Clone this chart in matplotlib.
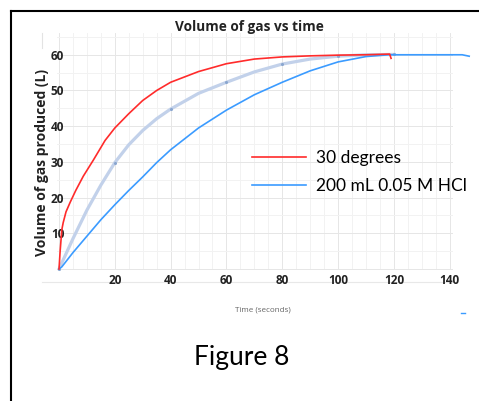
import matplotlib
matplotlib.use("Agg")
import matplotlib.pyplot as plt
from matplotlib.lines import Line2D
import numpy as np

W, H = 479, 401

# readings
red_t = [0, 0.4, 1, 1.5, 2.5, 4, 6, 8.7, 12.3, 16.5, 20, 25, 30, 35, 40, 50, 60, 70, 80, 90, 100, 110, 118.5, 119]
red_v = [0, 5, 11, 13, 16, 18.7, 22, 26, 30.5, 36, 39.5, 43.5, 47.2, 50, 52.3, 55.3, 57.5, 58.8, 59.4, 59.7, 59.9, 60, 60.2, 59.0]

fit_t = [0, 5, 10, 15, 20, 25, 30, 35, 40, 50, 60, 70, 80, 90, 100, 110, 120]
fit_v = [0, 8.5, 16.5, 23.5, 29.8, 34.8, 38.8, 42.1, 44.8, 49.2, 52.3, 55.2, 57.4, 58.8, 59.6, 60, 60.1]
fit_marks = [0, 20, 40, 60, 80, 100, 120]

blue_t = [0, 1, 2, 5, 10, 15, 20, 25, 30, 35, 40, 50, 60, 70, 80, 90, 100, 110, 118, 130, 144.5, 147]
blue_v = [0, 0.6, 1.6, 4.6, 9.2, 13.8, 18, 22, 25.8, 29.8, 33.4, 39.5, 44.5, 48.8, 52.3, 55.5, 58, 59.5, 60, 60, 60, 59.6]

series_labels = ["30 degrees", "200 mL 0.05 M HCl"]
x_ticks = [20, 40, 60, 80, 100, 120, 140]
y_ticks = [10, 20, 30, 40, 50, 60]

RED = "#ff2b2b"
BLUE = "#3b9bff"
FAINT = "#c2d1ea"
TXT = "#222222"

fig = plt.figure(figsize=(W / 100, H / 100), dpi=100)


def fx(px):
    return px / W


def fy(py):
    return 1 - py / H


ax = fig.add_axes([fx(42), fy(282), (453 - 42) / W, (282 - 33) / H])
xmin, xmax = -6.1, 141.2
ymin, ymax = -3.64, 66.1
ax.set_xlim(xmin, xmax)
ax.set_ylim(ymin, ymax)

# fine grid, only over the data region
gx0 = -0.7
for v in np.arange(0, 141, 5):
    c = "#e6e6e6" if v % 20 == 0 else "#f2f2f2"
    ax.plot([v, v], [0, ymax], color=c, lw=0.7, zorder=0)
ax.plot([xmax, xmax], [0, ymax], color="#e8e8e8", lw=0.7, zorder=0)
for v in np.arange(0, 66, 5):
    c = "#e6e6e6" if v % 10 == 0 else "#f2f2f2"
    ax.plot([gx0, xmax], [v, v], color=c, lw=0.7, zorder=0)

# faint fitted curve with dots
idx = [fit_t.index(t) for t in fit_marks]
ax.plot(fit_t, fit_v, color=FAINT, lw=2.3, zorder=1,
        marker="o", markersize=2.2, markerfacecolor="#8aa6cf",
        markeredgecolor="none", markevery=idx)

ax.plot(blue_t, blue_v, color=BLUE, lw=1.2, zorder=2, clip_on=False, label=series_labels[1])
ax.plot(red_t, red_v, color=RED, lw=1.2, zorder=3, label=series_labels[0])

for s in ["top", "right"]:
    ax.spines[s].set_visible(False)
ax.spines["bottom"].set_color("#e8e8e8")
ax.spines["bottom"].set_zorder(0)
ax.spines["left"].set_color("#e3e3e3")
ax.spines["left"].set_bounds(62, ymax)

ax.set_xticks(x_ticks)
ax.set_yticks(y_ticks)
ax.tick_params(length=0, labelsize=8.5, labelcolor=TXT)
ax.tick_params(axis="x", pad=-1.0)
ax.tick_params(axis="y", pad=-11.2)
for lbl in ax.get_xticklabels():
    lbl.set_fontweight("bold")
    lbl.set_va("center")
    lbl.set_family("Open Sans")
for lbl in ax.get_yticklabels():
    lbl.set_fontweight("bold")
    lbl.set_ha("center")
    lbl.set_family("Open Sans")

ax.set_ylabel("Volume of gas produced (L)", fontsize=10, fontweight="bold",
              color=TXT, family="Open Sans")
ax.yaxis.set_label_coords(0.016, 0.478)
ax.set_xlabel("Time (seconds)", fontsize=5.8, color="#666666", family="Open Sans")
ax.xaxis.set_label_coords(0.538, -0.1)

fig.text(fx(249), fy(27), "Volume of gas vs time", ha="center", va="center",
         fontsize=9.8, fontweight="bold", color=TXT, family="Open Sans")

handles = [Line2D([], [], color=RED, lw=1.2), Line2D([], [], color=BLUE, lw=1.2)]
fig.legend(handles, series_labels, loc="upper left",
           bbox_to_anchor=(fx(252), fy(150)), frameon=False,
           prop={"family": "Lato", "size": 12.5}, handlelength=3.1,
           handletextpad=0.6, labelspacing=0.7, borderpad=0, borderaxespad=0)

fig.text(fx(242), fy(357), "Figure 8", ha="center", va="center",
         fontsize=19, family="Lato", color="black")

# outer frame of the document
fig.add_artist(Line2D([fx(11), fx(11)], [0, fy(11)], color="black", lw=1.5))
fig.add_artist(Line2D([fx(11), 1], [fy(11), fy(11)], color="black", lw=1.5))
fig.add_artist(Line2D([fx(461), fx(465)], [fy(313), fy(313)], color=BLUE, lw=1))

fig.savefig("out.png", dpi=100)
